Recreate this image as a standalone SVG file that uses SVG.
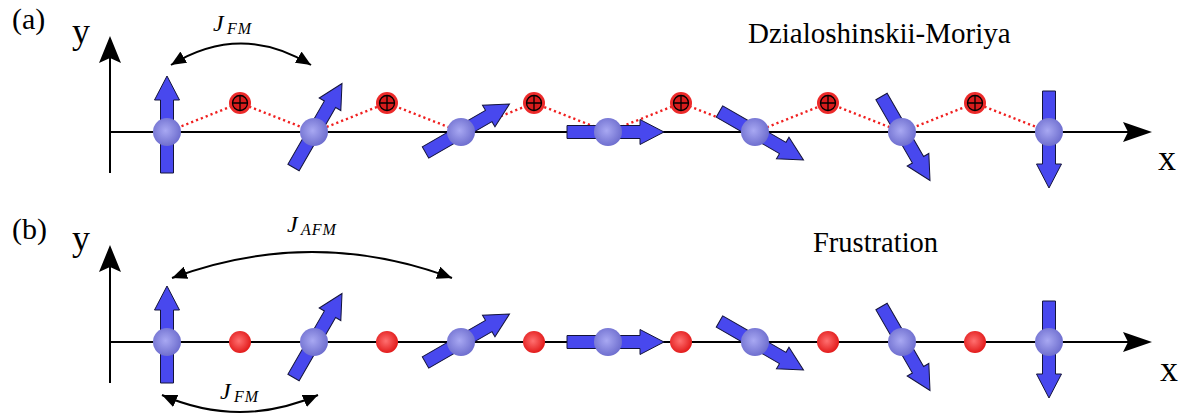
<svg xmlns="http://www.w3.org/2000/svg" xmlns:xlink="http://www.w3.org/1999/xlink" width="1183" height="419" viewBox="0 0 1183 419">
<style>
.axis{stroke:#000;stroke-width:2;fill:none}
.ahead{fill:#000}
.arc{stroke:#000;stroke-width:2;fill:none;marker-start:url(#tri);marker-end:url(#tri)}
.dm{stroke:#f02020;stroke-width:2.4;stroke-dasharray:2.2 3;fill:none}
.spinarrow{fill:#4848ee;stroke:#14143a;stroke-width:1}
</style>
<defs>
<radialGradient id="sph" cx="0.45" cy="0.45" r="0.6">
<stop offset="0" stop-color="#a8a8f2"/>
<stop offset="1" stop-color="#6a6acc"/>
</radialGradient>
<radialGradient id="red" cx="0.45" cy="0.45" r="0.6">
<stop offset="0" stop-color="#ff7070"/>
<stop offset="1" stop-color="#e01414"/>
</radialGradient>
<marker id="tri" viewBox="0 0 15 13" refX="15" refY="6.5" markerWidth="15" markerHeight="13" markerUnits="userSpaceOnUse" orient="auto-start-reverse">
<path d="M0,0 L15,6.5 L0,13 Z" fill="#000"/>
</marker>
<path id="arr" d="M-6.5,41 L6.5,41 L6.5,-32 L12.5,-32 L0,-56 L-12.5,-32 L-6.5,-32 Z" class="spinarrow"/>
<circle id="ball" r="14" fill="url(#sph)"/>
<g id="oplus">
<circle r="11" fill="#ec2a2a"/>
<circle r="7.5" fill="#d81c1c" stroke="#000" stroke-width="1.3"/>
<path d="M-7.5,0 H7.5 M0,-7.5 V7.5" stroke="#000" stroke-width="1.3"/>
</g>
<circle id="rdot" r="11" fill="url(#red)"/>
</defs>

<!-- Panel (a) -->
<g id="panel-a">
<g font-family="'Liberation Serif', 'DejaVu Serif', serif" fill="#000">
<text x="12" y="29" font-size="30">(a)</text>
<text x="72" y="43" font-size="36">y</text>
<text x="1158" y="170" font-size="36">x</text>
<text x="748" y="43" font-size="29">Dzialoshinskii-Moriya</text>
</g>
<g id="axes-a">
<path class="axis" d="M110,173 V55 M110,132 H1135"/>
<path class="ahead" d="M110,36 L121,63 L110,58 L99,63 Z"/>
<path class="ahead" d="M1152,132 L1123,122 L1128,132 L1123,142 Z"/>
</g>
<g id="connectors-a">
<path class="dm" d="M167,132 L240,103 L314,132 L387,103 L461,132 L534,103 L608,132 L681,103 L755,132 L828,103 L902,132 L975,103 L1049,132"/>
<path class="arc" d="M171,65 Q241,22 311,65"/>
</g>
<g font-family="'Liberation Serif', 'DejaVu Serif', serif" font-style="italic" fill="#000">
<text x="213" y="31" font-size="24">J</text>
<text x="227" y="34" font-size="16" letter-spacing="1">FM</text>
</g>
<g id="dm-sites-a">
<use xlink:href="#oplus" x="240" y="103"/>
<use xlink:href="#oplus" x="387" y="103"/>
<use xlink:href="#oplus" x="534" y="103"/>
<use xlink:href="#oplus" x="681" y="103"/>
<use xlink:href="#oplus" x="828" y="103"/>
<use xlink:href="#oplus" x="975" y="103"/>
</g>
<g id="spin-a1"><use xlink:href="#arr" transform="translate(167,132) rotate(0)"/><use xlink:href="#ball" x="167" y="132"/></g>
<g id="spin-a2"><use xlink:href="#arr" transform="translate(314,132) rotate(30)"/><use xlink:href="#ball" x="314" y="132"/></g>
<g id="spin-a3"><use xlink:href="#arr" transform="translate(461,132) rotate(60)"/><use xlink:href="#ball" x="461" y="132"/></g>
<g id="spin-a4"><use xlink:href="#arr" transform="translate(608,132) rotate(90)"/><use xlink:href="#ball" x="608" y="132"/></g>
<g id="spin-a5"><use xlink:href="#arr" transform="translate(755,132) rotate(120)"/><use xlink:href="#ball" x="755" y="132"/></g>
<g id="spin-a6"><use xlink:href="#arr" transform="translate(902,132) rotate(150)"/><use xlink:href="#ball" x="902" y="132"/></g>
<g id="spin-a7"><use xlink:href="#arr" transform="translate(1049,132) rotate(180)"/><use xlink:href="#ball" x="1049" y="132"/></g>
</g>

<!-- Panel (b) -->
<g id="panel-b">
<g font-family="'Liberation Serif', 'DejaVu Serif', serif" fill="#000">
<text x="12" y="239" font-size="30">(b)</text>
<text x="72" y="250" font-size="36">y</text>
<text x="1160" y="381" font-size="36">x</text>
<text x="813" y="252" font-size="28.5">Frustration</text>
</g>
<g id="axes-b">
<path class="axis" d="M110,383 V264 M110,342 H1135"/>
<path class="ahead" d="M110,245 L121,272 L110,267 L99,272 Z"/>
<path class="ahead" d="M1152,342 L1123,332 L1128,342 L1123,352 Z"/>
</g>
<g id="connectors-b">
<path class="arc" d="M172,278 Q312,226 452,278"/>
<path class="arc" d="M162,395 Q240,429 318,395"/>
</g>
<g font-family="'Liberation Serif', 'DejaVu Serif', serif" font-style="italic" fill="#000">
<text x="287" y="232" font-size="24">J</text>
<text x="301" y="235" font-size="16" letter-spacing="1">AFM</text>
<text x="220" y="399" font-size="24">J</text>
<text x="234" y="402" font-size="16" letter-spacing="1">FM</text>
</g>
<g id="sites-b">
<use xlink:href="#rdot" x="240" y="342"/>
<use xlink:href="#rdot" x="387" y="342"/>
<use xlink:href="#rdot" x="534" y="342"/>
<use xlink:href="#rdot" x="681" y="342"/>
<use xlink:href="#rdot" x="828" y="342"/>
<use xlink:href="#rdot" x="975" y="342"/>
</g>
<g id="spin-b1"><use xlink:href="#arr" transform="translate(167,342) rotate(0)"/><use xlink:href="#ball" x="167" y="342"/></g>
<g id="spin-b2"><use xlink:href="#arr" transform="translate(314,342) rotate(30)"/><use xlink:href="#ball" x="314" y="342"/></g>
<g id="spin-b3"><use xlink:href="#arr" transform="translate(461,342) rotate(60)"/><use xlink:href="#ball" x="461" y="342"/></g>
<g id="spin-b4"><use xlink:href="#arr" transform="translate(608,342) rotate(90)"/><use xlink:href="#ball" x="608" y="342"/></g>
<g id="spin-b5"><use xlink:href="#arr" transform="translate(755,342) rotate(120)"/><use xlink:href="#ball" x="755" y="342"/></g>
<g id="spin-b6"><use xlink:href="#arr" transform="translate(902,342) rotate(150)"/><use xlink:href="#ball" x="902" y="342"/></g>
<g id="spin-b7"><use xlink:href="#arr" transform="translate(1049,342) rotate(180)"/><use xlink:href="#ball" x="1049" y="342"/></g>
</g>
</svg>
